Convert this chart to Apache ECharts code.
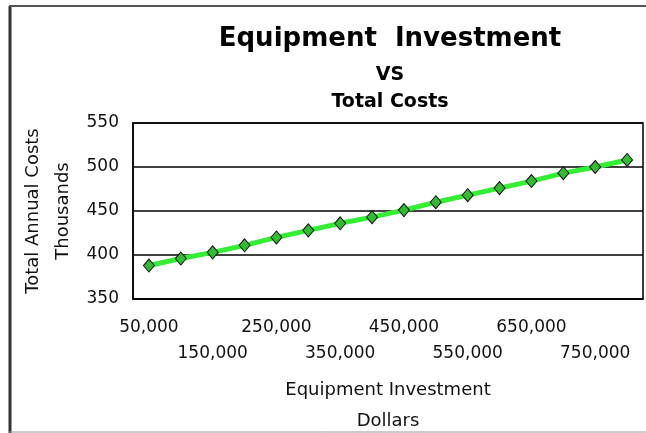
<!DOCTYPE html>
<html>
<head>
<meta charset="utf-8">
<script src="https://cdn.jsdelivr.net/npm/echarts@6/dist/echarts.min.js"></script>
<style>
html,body{margin:0;padding:0;background:#fff;}
#chart{width:646px;height:433px;}
</style>
</head>
<body>
<div id="chart"></div>
<script>
var categories = ['50,000','100,000','150,000','200,000','250,000','300,000','350,000','400,000','450,000','500,000','550,000','600,000','650,000','700,000','750,000','800,000'];
var totalCosts = [388, 396, 403, 411, 420, 428, 436, 443, 451, 460, 468, 476, 484, 493, 500, 508];
var titleLines = ['Equipment  Investment', 'VS', 'Total Costs'];
var xAxisName = 'Equipment Investment\nDollars';
var yAxisName = 'Total Annual Costs\nThousands';

var FONT = 'DejaVu Sans';
var chart = echarts.init(document.getElementById('chart'));
chart.setOption({
  backgroundColor: '#ffffff',
  animation: false,
  title: [
    {text: titleLines[0], left: 390, top: 26, textAlign: 'center', padding: 0,
     textStyle: {fontFamily: FONT, fontWeight: 'bold', fontSize: 26, color: '#000'}},
    {text: titleLines[1], left: 390, top: 66, textAlign: 'center', padding: 0,
     textStyle: {fontFamily: FONT, fontWeight: 'bold', fontSize: 19, color: '#000'}},
    {text: titleLines[2], left: 390, top: 93, textAlign: 'center', padding: 0,
     textStyle: {fontFamily: FONT, fontWeight: 'bold', fontSize: 19, color: '#000'}}
  ],
  graphic: [
    {type: 'line', shape: {x1: 10, y1: 6, x2: 10, y2: 433}, style: {stroke: '#333', lineWidth: 3}},
    {type: 'line', shape: {x1: 9, y1: 6, x2: 646, y2: 6}, style: {stroke: '#555', lineWidth: 2}},
    {type: 'line', shape: {x1: 9, y1: 432, x2: 646, y2: 432}, style: {stroke: '#999', lineWidth: 1}}
  ],
  grid: {left: 133, right: 3, top: 123, bottom: 134, show: true, borderColor: '#000', borderWidth: 1.5,
         containLabel: false, outerBoundsMode: 'none'},
  xAxis: {
    type: 'category',
    data: categories,
    boundaryGap: true,
    name: xAxisName,
    nameLocation: 'middle',
    nameGap: 76,
    nameTextStyle: {fontFamily: FONT, fontSize: 18, color: '#111', lineHeight: 31},
    axisLine: {show: true, lineStyle: {color: '#000', width: 1.5}},
    axisTick: {show: false},
    axisLabel: {
      interval: 1,
      margin: 20,
      fontFamily: FONT, fontSize: 17, color: '#111',
      formatter: function (v, i) { return (i % 4 === 0) ? '{a|' + v + '}' : '{b|' + v + '}'; },
      rich: {
        a: {fontFamily: FONT, fontSize: 17, color: '#111'},
        b: {fontFamily: FONT, fontSize: 17, color: '#111', padding: [26, 0, 0, 0]}
      }
    },
    splitLine: {show: false}
  },
  yAxis: {
    type: 'value',
    min: 350, max: 550, interval: 50,
    name: yAxisName,
    nameLocation: 'middle',
    nameRotate: 90,
    nameGap: 55,
    nameMoveOverlap: false,
    nameTextStyle: {fontFamily: FONT, fontSize: 18, color: '#111', lineHeight: 30},
    axisLine: {show: true, lineStyle: {color: '#000', width: 1.5}},
    axisTick: {show: false},
    axisLabel: {margin: 14, fontFamily: FONT, fontSize: 17, color: '#111'},
    splitLine: {show: true, lineStyle: {color: '#000', width: 1.5}}
  },
  series: [{
    type: 'line',
    data: totalCosts,
    lineStyle: {color: '#33ee33', width: 5},
    symbol: 'diamond',
    symbolSize: [11, 13],
    itemStyle: {color: '#33bb33', borderColor: '#111', borderWidth: 1},
    z: 3
  }]
});
</script>
</body>
</html>
